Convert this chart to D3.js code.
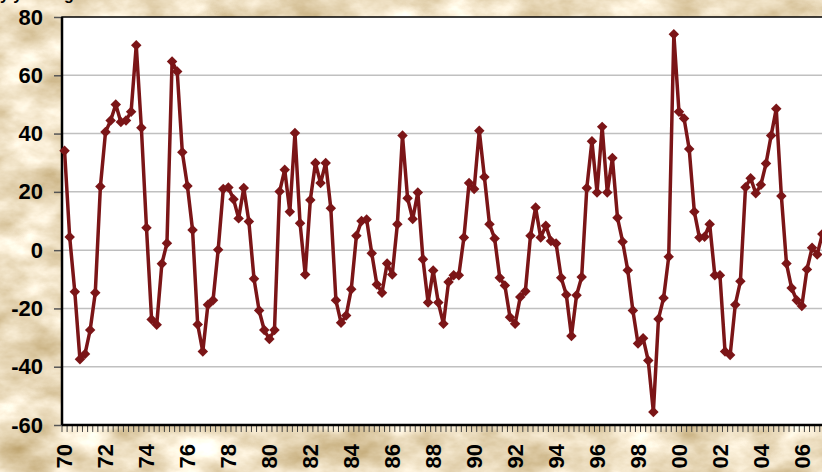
<!DOCTYPE html>
<html>
<head>
<meta charset="utf-8">
<script src="https://cdn.jsdelivr.net/npm/d3@7"></script>
<style>
body { margin: 0; overflow: hidden; background: #e8d6ae; }
svg { display: block; }
</style>
</head>
<body>
<div id="chart"></div>
<script>
// yr/yr % change, quarterly, 1970Q1 onward
const values = [
  34.1, 4.5, -14.3, -37.4, -35.6, -27.4, -14.6, 21.8, 40.5, 44.5,
  50.0, 44.0, 44.5, 47.5, 70.3, 42.0, 7.7, -23.8, -25.6, -4.7,
  2.4, 64.7, 61.3, 33.6, 22.0, 6.9, -25.5, -34.8, -18.7, -17.2,
  0.1, 21.0, 21.5, 17.5, 10.9, 21.3, 9.8, -9.8, -20.7, -27.4,
  -30.5, -27.4, 20.1, 27.6, 13.2, 40.2, 9.2, -8.4, 17.2, 29.9,
  23.0, 29.9, 14.4, -17.2, -24.9, -22.4, -13.4, 4.9, 10.0, 10.5,
  -1.1, -11.8, -14.6, -4.6, -8.4, 8.9, 39.3, 17.8, 10.7, 19.8,
  -3.1, -18.0, -7.0, -18.0, -25.3, -10.9, -8.6, -8.6, 4.3, 23.0,
  21.0, 41.0, 25.1, 8.9, 4.0, -9.5, -12.1, -23.0, -25.3, -16.1,
  -14.1, 4.9, 14.6, 4.3, 8.4, 3.1, 2.3, -9.5, -15.3, -29.5,
  -15.5, -9.2, 21.3, 37.4, 19.8, 42.3, 19.8, 31.6, 11.1, 2.9,
  -6.9, -20.7, -32.0, -30.2, -37.9, -55.5, -23.6, -16.4, -2.3, 74.1,
  47.5, 45.2, 34.7, 13.2, 4.3, 4.6, 8.9, -8.6, -8.6, -34.8,
  -36.0, -18.7, -10.7, 21.6, 24.7, 19.5, 22.4, 29.7, 39.3, 48.5,
  18.6, -4.6, -13.0, -17.2, -19.2, -6.6, 0.8, -1.5, 5.5
];
const startYear = 1970;
const quarters = values.map((d, i) => `${startYear + Math.floor(i / 4)}Q${i % 4 + 1}`);
const tickLabels = ['70', '72', '74', '76', '78', '80', '82', '84', '86', '88',
  '90', '92', '94', '96', '98', '00', '02', '04', '06'];
const yTicks = [-60, -40, -20, 0, 20, 40, 60, 80];

const width = 822;
const height = 472;
const margin = {top: 17, left: 62, bottom: 47};
const step = 5.12;

const data = values.map((v, i) => ({q: quarters[i], value: v}));
const tickQuarters = tickLabels.map(l => `${+l < 50 ? 2000 + +l : 1900 + +l}Q1`);

const x = d3.scaleBand()
    .domain(quarters)
    .range([margin.left, margin.left + quarters.length * step]);

const y = d3.scaleLinear()
    .domain([-60, 80])
    .range([height - margin.bottom, margin.top]);

const svg = d3.select('#chart').append('svg')
    .attr('width', width)
    .attr('height', height);

// parchment background
const defs = svg.append('defs');
const f = defs.append('filter').attr('id', 'paper')
    .attr('x', 0).attr('y', 0).attr('width', '100%').attr('height', '100%')
    .attr('color-interpolation-filters', 'sRGB');
f.append('feTurbulence')
    .attr('type', 'fractalNoise')
    .attr('baseFrequency', '0.018 0.03')
    .attr('numOctaves', 5)
    .attr('seed', 7);
f.append('feColorMatrix')
    .attr('type', 'matrix')
    .attr('values', '0.4 0 0 0 0.72  0.5 0 0 0 0.61  0.7 0 0 0 0.39  0 0 0 0 1');
svg.append('rect')
    .attr('width', width).attr('height', height)
    .attr('filter', 'url(#paper)');

// plot area
const plotRight = x.range()[1] + 10;
svg.append('rect')
    .attr('x', margin.left).attr('y', y(80))
    .attr('width', plotRight - margin.left)
    .attr('height', y(-60) - y(80))
    .attr('fill', '#fff')
    .attr('stroke', '#000')
    .attr('stroke-width', 1.5);

// gridlines
svg.append('g')
    .selectAll('line').data(yTicks.filter(d => d > -60 && d < 80)).enter().append('line')
    .attr('x1', margin.left).attr('x2', plotRight)
    .attr('y1', d => y(d)).attr('y2', d => y(d))
    .attr('stroke', '#c0c0c0')
    .attr('stroke-width', 1.5);

// y axis
const yAxis = g => g
    .attr('transform', `translate(${margin.left}, 0)`)
    .call(d3.axisLeft(y).tickValues(yTicks).tickSize(8).tickPadding(11)
        .tickFormat(d => String(d)))
    .call(g => g.select('.domain').remove())
    .call(g => g.selectAll('.tick line').attr('stroke', '#555').attr('stroke-width', 1.5))
    .call(g => g.selectAll('.tick text')
        .attr('font-family', 'Liberation Sans, Arial, sans-serif')
        .attr('font-weight', 'bold')
        .attr('font-size', 22)
        .attr('fill', '#000'));
svg.append('g').call(yAxis);

// x axis: quarterly tick marks at band edges
const edges = quarters.map(q => x(q)).concat([x.range()[1]]);
svg.append('g')
    .selectAll('line').data(edges).enter().append('line')
    .attr('x1', d => d).attr('x2', d => d)
    .attr('y1', y(-60)).attr('y2', y(-60) + 7)
    .attr('stroke', '#444')
    .attr('stroke-width', 1);

const xAxis = g => g
    .attr('transform', `translate(0, ${y(-60)})`)
    .call(d3.axisBottom(x).tickValues(tickQuarters).tickSize(0)
        .tickFormat((d, i) => tickLabels[i]))
    .call(g => g.select('.domain').remove())
    .call(g => g.selectAll('.tick text')
        .attr('transform', 'rotate(-90)')
        .attr('x', -19)
        .attr('y', 0)
        .attr('dy', '0.35em')
        .attr('text-anchor', 'end')
        .attr('font-family', 'Liberation Sans, Arial, sans-serif')
        .attr('font-weight', 'bold')
        .attr('font-size', 22)
        .attr('fill', '#000'));
svg.append('g').call(xAxis);

// axis lines
svg.append('line')
    .attr('x1', margin.left).attr('x2', plotRight)
    .attr('y1', y(-60)).attr('y2', y(-60))
    .attr('stroke', '#000').attr('stroke-width', 2.5);
svg.append('line')
    .attr('x1', margin.left).attr('x2', margin.left)
    .attr('y1', y(80)).attr('y2', y(-60))
    .attr('stroke', '#000').attr('stroke-width', 2.5);

// series
const cx = d => x(d.q) + x.bandwidth() / 2;
const line = d3.line()
    .x(cx)
    .y(d => y(d.value));

svg.append('path')
    .datum(data)
    .attr('fill', 'none')
    .attr('stroke', '#7b1517')
    .attr('stroke-width', 3.5)
    .attr('stroke-linejoin', 'round')
    .attr('d', line);

svg.append('g')
    .attr('fill', '#7b1517')
    .selectAll('path').data(data).enter().append('path')
    .attr('d', d3.symbol(d3.symbolDiamond2, 70))
    .attr('transform', d => `translate(${cx(d)}, ${y(d.value)})`);

// title, mostly above the frame
svg.append('text')
    .attr('x', 0).attr('y', 0)
    .attr('font-family', 'Liberation Sans, Arial, sans-serif')
    .attr('font-weight', 'bold')
    .attr('font-size', 16)
    .text('y/y % chg.');

svg.node();
</script>
</body>
</html>
